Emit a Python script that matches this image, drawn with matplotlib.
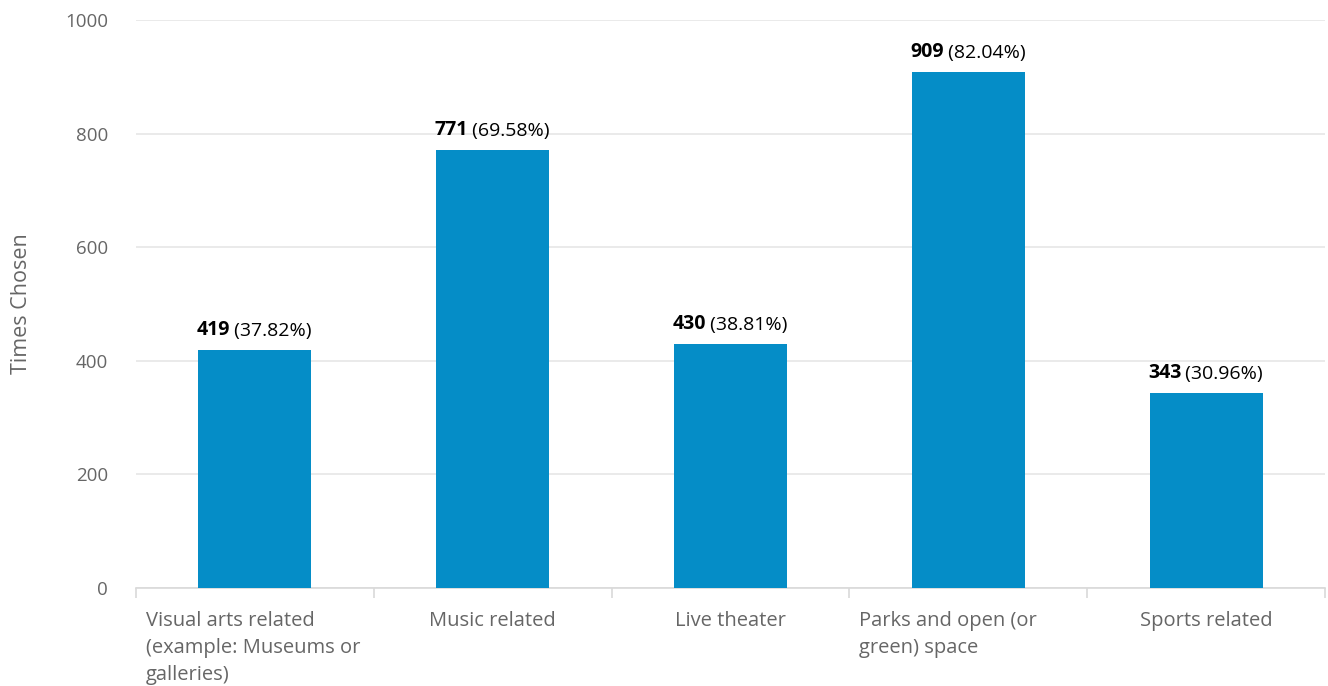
import matplotlib.pyplot as plt
import numpy as np
from matplotlib.transforms import offset_copy

categories = ["Visual arts related\n(example: Museums or\ngalleries)",
              "Music related",
              "Live theater",
              "Parks and open (or\ngreen) space",
              "Sports related"]
counts = [419, 771, 430, 909, 343]
percents = ["37.82%", "69.58%", "38.81%", "82.04%", "30.96%"]
y_ticks = [0, 200, 400, 600, 800, 1000]

plt.rcParams['font.family'] = ['Open Sans', 'DejaVu Sans']

fig = plt.figure(figsize=(13.28, 6.86), dpi=100)
ax = fig.add_axes([0.1024, 0.1429, 0.8953, 0.8279])

x = np.arange(len(categories))
ax.bar(x, counts, width=0.475, color='#058DC7', zorder=3)

ax.set_xlim(-0.5, len(categories) - 0.5)
ax.set_ylim(0, 1000)
ax.set_yticks(y_ticks)
ax.yaxis.grid(True, color='#e6e6e6', linewidth=1.2, zorder=0)
ax.tick_params(axis='y', length=0, pad=20, labelsize=13.5, labelcolor='#666666')

for s in ['top', 'right', 'left']:
    ax.spines[s].set_visible(False)
ax.spines['bottom'].set_color('#d9d9d9')
ax.spines['bottom'].set_linewidth(1.2)

ax.set_xticks(x)
ax.set_xticklabels([])
ax.set_xticks(np.arange(len(categories) + 1) - 0.5, minor=True)
ax.tick_params(axis='x', which='major', length=0)
ax.tick_params(axis='x', which='minor', length=7.5, width=1.2, color='#d9d9d9')

# category labels: wrapped ones left aligned in band, single line centered
for i, lab in enumerate(categories):
    if '\n' in lab:
        ax.text(i - 0.5 + 0.042, -0.041, lab, transform=ax.get_xaxis_transform(),
                ha='left', va='top', fontsize=14.5, color='#666666', linespacing=1.45)
    else:
        ax.text(i, -0.041, lab, transform=ax.get_xaxis_transform(),
                ha='center', va='top', fontsize=14.5, color='#666666', linespacing=1.45)

ax.set_ylabel('Times Chosen', fontsize=15.5, color='#666666', labelpad=24)

# value labels: bold count + normal percent, centered together
fig.canvas.draw()
r = fig.canvas.get_renderer()
for i, (c, p) in enumerate(zip(counts, percents)):
    t1 = ax.text(i, c, str(c), fontsize=14, fontweight='bold', color='black',
                 ha='left', va='bottom')
    t2 = ax.text(i, c, " (" + p + ")", fontsize=14, color='black',
                 ha='left', va='bottom')
    w1 = t1.get_window_extent(renderer=r).width
    w2 = t2.get_window_extent(renderer=r).width
    total = w1 + w2
    t1.set_transform(offset_copy(ax.transData, fig=fig, x=-total / 2, y=10, units='dots'))
    t2.set_transform(offset_copy(ax.transData, fig=fig, x=-total / 2 + w1 - 1, y=10, units='dots'))

fig.savefig('out.png', dpi=100)
